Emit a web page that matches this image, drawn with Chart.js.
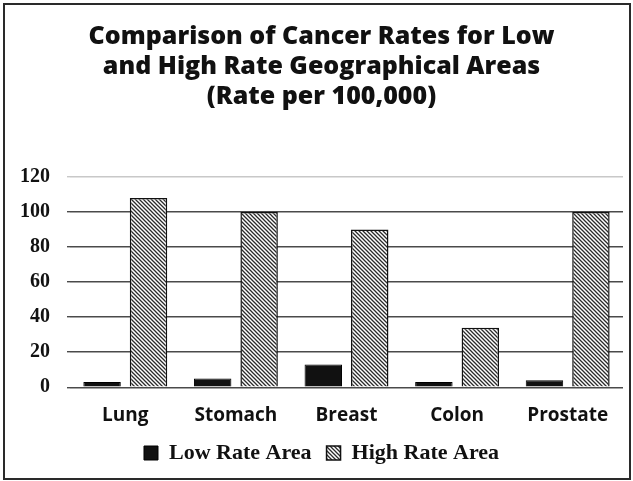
<!DOCTYPE html>
<html>
<head>
<meta charset="utf-8">
<script src="https://cdn.jsdelivr.net/npm/chart.js@4.4.0/dist/chart.umd.min.js"></script>
<style>
  html, body { margin: 0; padding: 0; background: #fff; }
  #wrap { position: relative; width: 633px; height: 481px; }
  #frame { position: absolute; left: 3px; top: 3px; width: 624px; height: 473px; border: 2px solid #2a2a2a; pointer-events: none; }
  canvas { position: absolute; left: 0; top: 0; }
</style>
</head>
<body>
<div id="wrap">
  <canvas id="c" width="633" height="481"></canvas>
  <div id="frame"></div>
</div>
<script>
const categories = ["Lung", "Stomach", "Breast", "Colon", "Prostate"];
const lowRateValues = [3, 5, 13, 3, 4];
const highRateValues = [108, 100, 90, 34, 100];
const seriesNames = ["Low Rate Area", "High Rate Area"];
const titleLines = ["Comparison of Cancer Rates for Low", "and High Rate Geographical Areas", "(Rate per 100,000)"];
const yTicks = [0, 20, 40, 60, 80, 100, 120];

function hatch() {
  const s = 4;
  const p = document.createElement('canvas');
  p.width = s; p.height = s;
  const g = p.getContext('2d');
  g.fillStyle = '#ffffff';
  g.fillRect(0, 0, s, s);
  g.strokeStyle = '#2b2b2b';
  g.lineWidth = 1.3;
  g.beginPath();
  g.moveTo(0, 0); g.lineTo(s, s);
  g.moveTo(-s / 2, s / 2); g.lineTo(s / 2, s * 1.5);
  g.moveTo(s / 2, -s / 2); g.lineTo(s * 1.5, s / 2);
  g.stroke();
  return g.createPattern(p, 'repeat');
}

const ctx = document.getElementById('c').getContext('2d');
const pattern = hatch();

new Chart(ctx, {
  type: 'bar',
  data: {
    labels: categories,
    datasets: [
      { label: seriesNames[0], data: lowRateValues, backgroundColor: '#111111', borderColor: '#000000', borderWidth: 1 },
      { label: seriesNames[1], data: highRateValues, backgroundColor: pattern, borderColor: '#111111', borderWidth: 1.5 }
    ]
  },
  options: {
    responsive: false,
    animation: false,
    devicePixelRatio: 1,
    layout: { padding: { left: 20, right: 10, top: 0, bottom: 7 } },
    datasets: { bar: { categoryPercentage: 0.84, barPercentage: 0.806 } },
    plugins: {
      tooltip: { enabled: false },
      title: {
        display: true,
        text: titleLines,
        color: '#111111',
        font: { family: 'Open Sans', weight: 800, size: 25, lineHeight: 1.2 },
        padding: { top: 22, bottom: 65 }
      },
      legend: {
        position: 'bottom',
        labels: {
          color: '#111111',
          boxWidth: 14,
          boxHeight: 14,
          padding: 15,
          font: { family: 'Liberation Serif', weight: 'bold', size: 22 }
        }
      }
    },
    scales: {
      x: {
        grid: { display: false, drawTicks: true, tickLength: 17 },
        border: { display: false },
        ticks: { color: '#111111', padding: 0, font: { family: 'Open Sans', weight: 'bold', size: 19 } }
      },
      y: {
        min: 0,
        max: 120,
        afterBuildTicks: (scale) => { scale.ticks = yTicks.map(v => ({ value: v })); },
        afterFit: (scale) => { scale.width = 50; },
        border: { display: false },
        grid: {
          color: (c) => (c.tick && c.tick.value === 120 ? '#c8c8c8' : '#4a4a4a'),
          lineWidth: 1.4,
          tickLength: 3
        },
        ticks: { color: '#111111', padding: 17, font: { family: 'Liberation Serif', weight: 'bold', size: 20 } }
      }
    }
  }
});
</script>
</body>
</html>
